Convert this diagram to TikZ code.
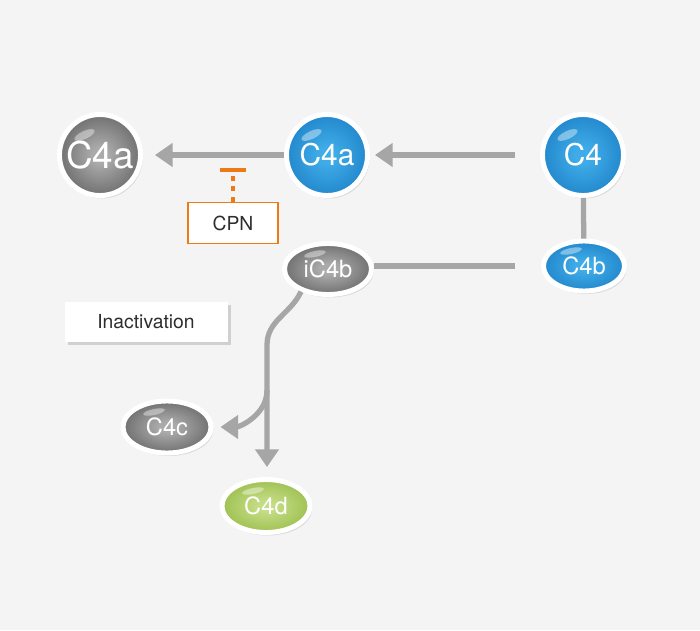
\documentclass[tikz,border=0pt]{standalone}
\usepackage{fontspec}
\setmainfont{TeX Gyre Heros}
\usetikzlibrary{arrows.meta,positioning,calc,shapes.geometric,shadows}
\definecolor{bggray}{HTML}{F4F4F4}
\definecolor{linegray}{HTML}{A6A6A6}
\definecolor{grayin}{HTML}{AAAAAA}
\definecolor{grayout}{HTML}{545454}
\definecolor{bluein}{HTML}{3FABE8}
\definecolor{blueout}{HTML}{1477BE}
\definecolor{greenin}{HTML}{C4DC84}
\definecolor{greenout}{HTML}{8DB43B}
\definecolor{cpnorange}{HTML}{EE7A16}
\definecolor{textgray}{HTML}{2E2E2E}
\pgfdeclareradialshading{grayglow}{\pgfpoint{0bp}{0bp}}%
  {color(0bp)=(grayin); color(5bp)=(grayin); color(35bp)=(grayout); color(50bp)=(grayout)}
\pgfdeclareradialshading{blueglow}{\pgfpoint{0bp}{0bp}}%
  {color(0bp)=(bluein); color(5bp)=(bluein); color(35bp)=(blueout); color(50bp)=(blueout)}
\pgfdeclareradialshading{greenglow}{\pgfpoint{0bp}{0bp}}%
  {color(0bp)=(greenin); color(5bp)=(greenin); color(35bp)=(greenout); color(50bp)=(greenout)}

\begin{document}
\begin{tikzpicture}[>=Latex,
  ball/.style={circle,draw=white,line width=2.8pt,minimum size=1.62cm,inner sep=0pt,
    text=white,drop shadow={opacity=.22,shadow xshift=.04cm,shadow yshift=-.06cm},
    path picture={\coordinate (gl) at ($(path picture bounding box.center)+(-.31,.40)$);
      \fill[white,opacity=.4] (gl) ellipse [x radius=.22cm,y radius=.08cm,rotate=25];}},
  oval/.style={ellipse,draw=white,line width=2.8pt,minimum width=1.74cm,minimum height=1.02cm,
    inner sep=0pt,text=white,font=\fontsize{13.5}{15}\selectfont,
    drop shadow={opacity=.22,shadow xshift=.04cm,shadow yshift=-.06cm},
    path picture={\coordinate (gl) at ($(path picture bounding box.center)+(-.26,.30)$);
      \fill[white,opacity=.4] (gl) ellipse [x radius=.22cm,y radius=.06cm,rotate=12];}},
  grayball/.style={shading=grayglow},
  blueball/.style={shading=blueglow},
  greenball/.style={shading=greenglow},
  arr/.style={-{Triangle[length=10pt,width=13pt]},line width=3pt,linegray},
  link/.style={line width=3pt,linegray},
  inhib/.style={-{Bar[width=15pt,line width=2.3pt]},line width=2.2pt,
    dash pattern=on 3pt off 3pt,cpnorange},
  tag/.style={fill=white,text=textgray,font=\fontsize{11}{13}\selectfont}]

\fill[bggray] (0,0) rectangle (14,12.6);

% cleavage of C4
\node[ball,blueball,font=\fontsize{17}{20}\selectfont] (c4) at (11.66,9.50) {C4};
\node[oval,blueball,minimum width=1.62cm,minimum height=1.0cm] (c4b) at (11.68,7.28) {C4b};
\node[ball,blueball,font=\fontsize{17}{20}\selectfont] (c4a) at (6.54,9.50) {C4a};
\node[ball,grayball,font=\fontsize{21}{24}\selectfont] (c4aoff) at (2.00,9.50) {C4a};
\draw[link] (c4) -- (c4b);
\draw[arr,shorten <=.5cm,shorten >=.1cm] (c4) -- (c4a);
\draw[arr,shorten >=.24cm] (c4a) -- (c4aoff);

% CPN acts on C4a
\node[tag,draw=cpnorange,line width=.6pt,minimum width=1.8cm,minimum height=.82cm] (cpn)
  at (4.66,8.14) {CPN};
\coordinate (cut) at (4.66,9.24);
\draw[inhib] (cpn) -- (cut);

% inactivation of C4b
\node[oval,grayball] (ic4b) at (6.56,7.22) {iC4b};
\draw[link,shorten <=.52cm] (c4b) -- (c4b -| ic4b.east);
\node[tag,minimum width=3.26cm,minimum height=.8cm,
  drop shadow={opacity=.3,shadow xshift=.06cm,shadow yshift=-.06cm}] (inact) at (2.92,6.16)
  {Inactivation};
\node[oval,grayball,minimum width=1.76cm,minimum height=1.04cm] (c4c) at (3.34,4.06) {C4c};
\node[oval,greenball,minimum width=1.76cm,minimum height=1.06cm] (c4d) at (5.32,2.48) {C4d};
\coordinate (bend) at (5.34,5.70);
\coordinate (fork) at (5.34,4.80);
\draw[arr,shorten >=.2cm] (ic4b.220) to[out=245,in=90] (bend) -- (bend |- c4d.north);
\draw[arr,shorten >=.14cm] (fork) to[out=-90,in=0] (c4c);
\end{tikzpicture}
\end{document}
